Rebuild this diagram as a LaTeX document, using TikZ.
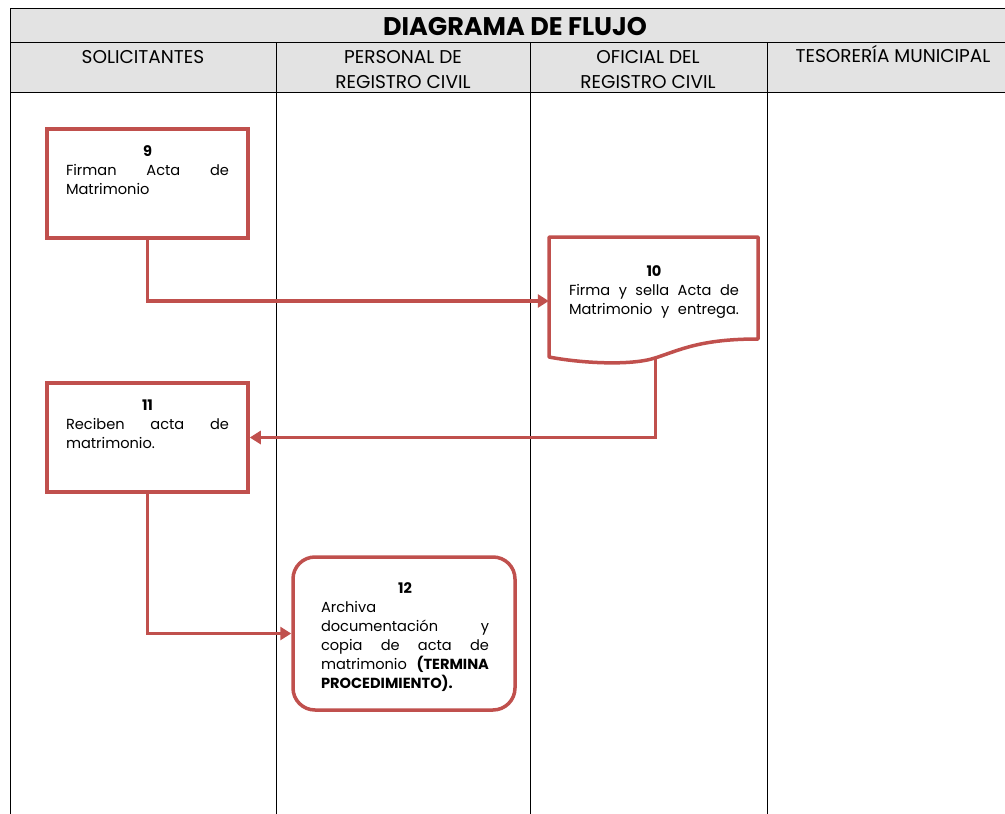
\documentclass[tikz,border=0pt]{standalone}
\usepackage{fontspec}
\setmainfont{Poppins}
\usetikzlibrary{arrows.meta}
\definecolor{boxred}{HTML}{C0504D}
\definecolor{hdrgray}{HTML}{E3E3E3}
\tikzset{
  grid/.style={draw=black, line width=1pt},
  procbox/.style={draw=boxred, line width=3.5pt, fill=white, inner sep=0pt},
  endbox/.style={draw=boxred, line width=3.5pt, fill=white, inner sep=0pt, rounded corners=22pt},
  flow/.style={draw=boxred, line width=3.5pt, -{Triangle[length=11pt,width=13pt]}},
  hdr/.style={font=\fontsize{18.5}{25}\selectfont, align=center, inner sep=0pt},
  title/.style={font=\bfseries\fontsize{25.5}{28}\selectfont, inner sep=0pt},
  body/.style={font=\fontsize{14.6}{19}\selectfont, align=left, inner sep=0pt, anchor=north},
}
\newcommand{\numline}[1]{\makebox[\linewidth]{\bfseries #1}}
\begin{document}
\begin{tikzpicture}[x=1pt,y=-1pt]
\useasboundingbox (0,0) rectangle (1005,814);
% header
\fill[hdrgray] (10.5,8) rectangle (1005,92);
\draw[grid] (1005,8) -- (10.5,8) -- (10.5,814);
\draw[grid] (10.5,42) -- (1005,42);
\draw[grid] (10.5,92) -- (1005,92);
\draw[grid] (276,42) -- (276,814);
\draw[grid] (530,42) -- (530,814);
\draw[grid] (767,42) -- (767,814);
\node[title] (ttl) at (515,26.5) {DIAGRAMA DE FLUJO};
\node[hdr, anchor=north] (h1) at (143,50) {SOLICITANTES};
\node[hdr, anchor=north] (h2) at (403,50) {PERSONAL DE\\REGISTRO CIVIL};
\node[hdr, anchor=north] (h3) at (648,50) {OFICIAL DEL\\REGISTRO CIVIL};
\node[hdr, anchor=north] (h4) at (893,45) {TESORERÍA MUNICIPAL};
% box 9
\node[procbox, minimum width=201pt, minimum height=109pt] (b9) at (147.5,183.5) {};
\node[body, text width=163pt] (t9) at (147.5,145) {\numline{9}\\Firman\hfill Acta\hfill de\\Matrimonio};
% box 10 (document)
\node[minimum width=209pt, minimum height=128pt, inner sep=0pt] (b10) at (653.5,301) {};
\draw[draw=boxred, line width=3.5pt, fill=white, line join=round]
  (549,237) -- (758,237) -- (758,339)
  .. controls (700,339) and (680,350) .. (655,358)
  .. controls (630,366) and (580,363) .. (549,357) -- cycle;
\coordinate (d10) at (655.5,358);
\node[body, text width=170pt] (t10) at (654,265) {\numline{10}\\Firma\hfill y\hfill sella\hfill Acta\hfill de\\Matrimonio\hfill y\hfill entrega.};
% box 11
\node[procbox, minimum width=201pt, minimum height=109pt] (b11) at (147.5,437.5) {};
\node[body, text width=163pt] (t11) at (147.5,400) {\numline{11}\\Reciben\hfill acta\hfill de\\matrimonio.};
% box 12
\node[endbox, minimum width=222pt, minimum height=153pt] (b12) at (404,633.5) {};
\node[body, text width=168pt] (t12) at (405,582) {\numline{12}\\Archiva\\documentación\hfill y\\copia\hfill de\hfill acta\hfill de\\matrimonio\hfill\textbf{(TERMINA}\\\textbf{PROCEDIMIENTO).}};
% connectors
\draw[flow] (b9.south) |- (b10.west);
\draw[flow] (d10) |- (b11.east);
\draw[flow] (b11.south) |- (b12.west);
\end{tikzpicture}
\end{document}
